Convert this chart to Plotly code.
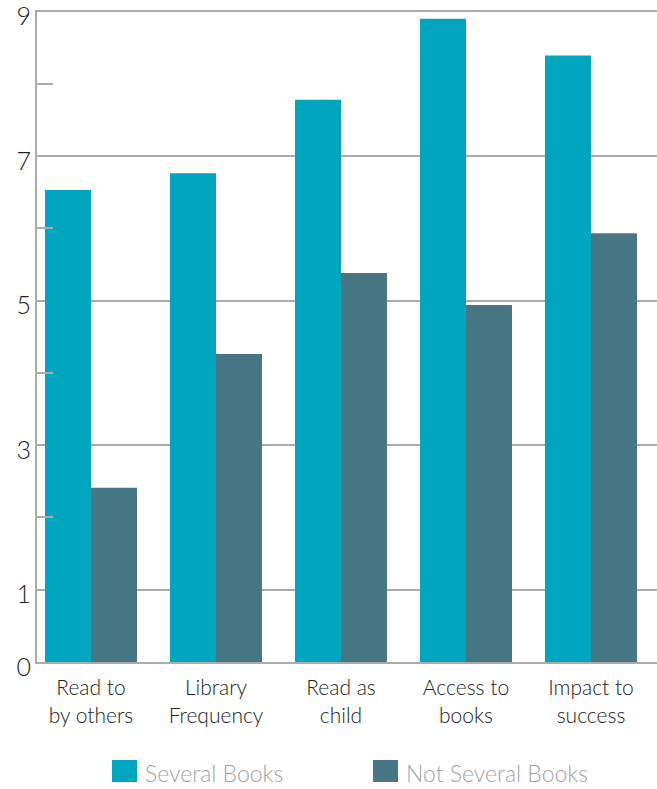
import plotly.graph_objects as go

# Survey categories (two-line labels) and mean scores per group
categories = [
    "Read to<br>by others",
    "Library<br>Frequency",
    "Read as<br>child",
    "Access to<br>books",
    "Impact to<br>success",
]
several_books = [6.53, 6.76, 7.78, 8.90, 8.39]
not_several_books = [2.41, 4.26, 5.38, 4.94, 5.93]
series_names = ["Several Books", "Not Several Books"]

y_tick_vals = [0, 1, 3, 5, 7, 9]
y_minor_vals = [2, 4, 6, 8]

TEAL = "#00A6C0"
SLATE = "#477684"
GRID = "#ABABAB"
FONT = "Lato"

W, H = 657, 789
M_L, M_R, M_T, M_B = 37, 0, 10, 127
PW, PH = W - M_L - M_R, H - M_T - M_B
Y_TOP = 9.02  # a hair above 9 so the top gridline is kept

fig = go.Figure()
fig.add_trace(go.Bar(x=categories, y=several_books, name=series_names[0],
                     marker=dict(color=TEAL, line=dict(width=0)), showlegend=False))
fig.add_trace(go.Bar(x=categories, y=not_several_books, name=series_names[1],
                     marker=dict(color=SLATE, line=dict(width=0)), showlegend=False))


def px_x(px):
    return (px - M_L) / PW


def px_y(py):
    return (H - M_B - py) / PH


# Custom legend: large colour swatches with grey labels below the plot
legend_items = [(series_names[0], TEAL, 112), (series_names[1], SLATE, 373)]
shapes = []
annotations = []
for name, color, x0 in legend_items:
    shapes.append(dict(type="rect", xref="paper", yref="paper",
                       x0=px_x(x0), x1=px_x(x0 + 25), y0=px_y(760), y1=px_y(782),
                       fillcolor=color, line=dict(width=0)))
    annotations.append(dict(xref="paper", yref="paper", x=px_x(x0 + 31), y=px_y(773),
                            text=name, showarrow=False, xanchor="left", yanchor="middle",
                            font=dict(family=FONT, size=23, color="#A3A3A3", weight=300)))

fig.update_layout(
    width=W, height=H,
    margin=dict(l=M_L, r=M_R, t=M_T, b=M_B, pad=0, autoexpand=False),
    paper_bgcolor="white", plot_bgcolor="white",
    barmode="group", bargap=0.264, bargroupgap=0,
    shapes=shapes, annotations=annotations,
    font=dict(family=FONT, color="#222222"),
    xaxis=dict(
        type="category", range=[-0.432, 4.528], automargin=False,
        showline=True, linecolor=GRID, linewidth=2,
        showgrid=False, ticks="",
        tickfont=dict(family=FONT, size=21, color="#222222", weight=300),
        ticklabelstandoff=6,
    ),
    yaxis=dict(
        range=[0, Y_TOP], tickvals=y_tick_vals, automargin=False,
        showgrid=True, gridcolor=GRID, gridwidth=2,
        showline=True, linecolor=GRID, linewidth=2, zeroline=False,
        ticks="", tickfont=dict(family=FONT, size=25, color="#222222", weight=300),
        ticklabelstandoff=-1, ticklabelshift=5, ticklabeloverflow="allow",
        minor=dict(tickvals=y_minor_vals, ticks="inside", ticklen=16,
                   tickcolor=GRID, tickwidth=2, showgrid=False),
    ),
)

fig.write_html("out.html")
